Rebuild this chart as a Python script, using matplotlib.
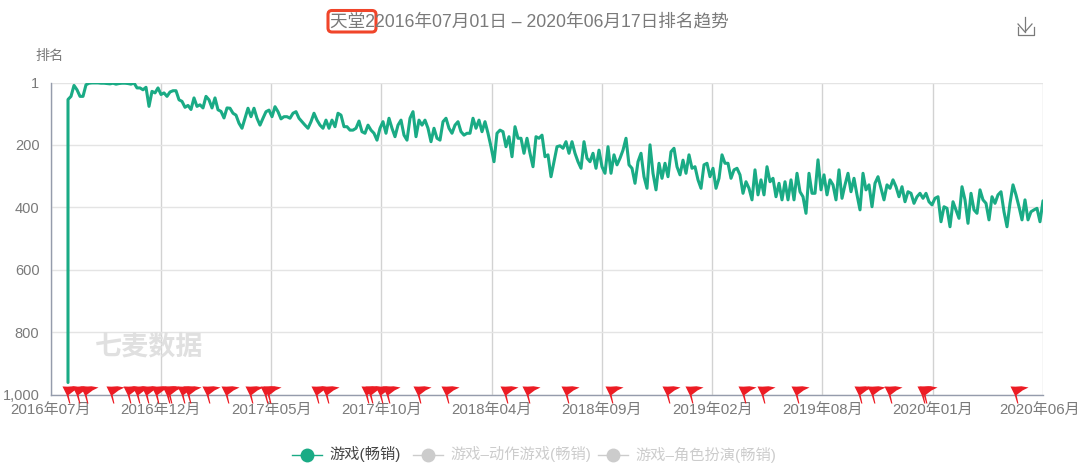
import numpy as np
import matplotlib
matplotlib.use("Agg")
import matplotlib.pyplot as plt
from matplotlib.path import Path
from matplotlib.patches import FancyBboxPatch
from matplotlib.transforms import ScaledTranslation

plt.rcParams['font.family'] = ['Liberation Sans', 'Noto Sans CJK SC', 'DejaVu Sans']

title_text = "天堂22016年07月01日 – 2020年06月17日排名趋势"
y_label = "排名"
watermark = "七麦数据"
month_labels = ["2016年07月", "2016年12月", "2017年05月", "2017年10月", "2018年04月",
                "2018年09月", "2019年02月", "2019年08月", "2020年01月", "2020年06月"]
rank_ticks = [1, 200, 400, 600, 800, 1000]
rank_tick_labels = ["1", "200", "400", "600", "800", "1,000"]
legend_names = ["游戏(畅销)", "游戏–动作游戏(畅销)", "游戏–角色扮演(畅销)"]

entry_rank = 960
rank_2016 = [55, 45, 10, 24, 45, 45, 8, 3, 2, 2, 2, 3, 3, 4, 5, 3, 6, 4, 3, 3, 4, 6, 2,
             18, 18, 24, 16, 77, 29, 34, 18, 39, 34, 45, 31, 27, 27, 56, 61, 80, 74, 87,
             50, 77, 72, 82, 45, 56, 82, 50, 88, 93, 114, 82]
rank_2017a = [83, 99, 105, 131, 147, 115, 83, 110, 83, 115, 137, 115, 94, 89, 110, 78, 94,
              117, 110, 110, 115, 99, 94, 115, 126, 137, 147, 126, 99, 121, 137, 147, 121,
              147, 121, 142, 99, 105, 142, 142, 153, 153, 147, 124, 158, 163, 137, 153,
              163, 185, 147, 126, 163, 115, 147]
rank_2017b = [174, 137, 121, 169, 185, 115, 94, 174, 121, 137, 121, 147, 190, 147, 179, 185,
              126, 115, 147, 163, 137, 126, 158, 169, 163, 163, 115, 147, 121, 158, 126,
              163, 206, 254, 163, 153, 158, 206, 174, 238, 142, 179, 179, 227, 179, 227,
              270, 174, 179, 169, 238, 232, 302, 254, 206]
rank_2018 = [203, 211, 190, 227, 190, 227, 254, 275, 190, 243, 254, 227, 275, 217, 270, 291,
             206, 291, 232, 264, 243, 217, 179, 264, 275, 323, 254, 227, 302, 339, 200, 291,
             344, 259, 307, 259, 302, 222, 211, 270, 296, 249, 291, 232, 275, 270, 312, 339,
             264, 259, 302, 275, 339, 307, 232]
rank_2019 = [259, 259, 307, 280, 275, 296, 355, 318, 339, 376, 280, 360, 312, 360, 270, 318,
             307, 366, 323, 376, 318, 376, 312, 376, 291, 350, 366, 419, 291, 355, 355, 248,
             344, 296, 360, 312, 328, 376, 280, 371, 328, 291, 350, 307, 360, 408, 291, 344,
             328, 398, 323, 302, 339, 376, 328]
rank_2020 = [339, 312, 334, 366, 334, 382, 350, 355, 387, 366, 355, 371, 355, 382, 392, 371,
             366, 446, 398, 403, 462, 382, 408, 435, 334, 376, 451, 355, 408, 419, 344, 376,
             387, 440, 366, 387, 360, 350, 414, 462, 387, 328, 360, 398, 440, 376, 440, 414,
             408, 403, 446, 379]

flag_positions_px = [69, 79, 87, 113, 130, 139, 148, 158, 169, 171, 184, 190, 209, 228, 252,
                     267, 270, 318, 328, 368, 372, 382, 389, 420, 448, 507, 529, 568, 612,
                     669, 692, 745, 764, 798, 861, 874, 891, 924, 926, 1017]

ranks = np.array(rank_2016 + rank_2017a + rank_2017b + rank_2018 + rank_2019 + rank_2020, float)

W, H = 1080, 466
L, R, T, B = 50.5, 1043.0, 82.6, 395.0
GREEN = "#1aab85"
TXT = "#7a7a7a"

fig = plt.figure(figsize=(W / 100, H / 100), dpi=100, facecolor="white")
ax = fig.add_axes([L / W, 1 - B / H, (R - L) / W, (B - T) / H])
ax.set_xlim(L, R)
ax.set_ylim(1000, 1)

tick_x = np.linspace(L, R, len(month_labels))
ax.set_xticks(tick_x)
ax.set_xticklabels(month_labels, fontsize=10.8, color=TXT)
ax.set_yticks(rank_ticks)
ax.set_yticklabels(rank_tick_labels, fontsize=10.5, color=TXT)
ax.tick_params(length=0)
ax.tick_params(axis='y', pad=8)
ax.tick_params(axis='x', pad=6)
last_label = ax.get_xticklabels()[-1]
last_label.set_transform(last_label.get_transform() + ScaledTranslation(-3.5 / 100, 0, fig.dpi_scale_trans))
ax.set_axisbelow(True)
ax.grid(axis='y', color="#e4e4e4", lw=1.0)
ax.grid(axis='x', color="#d2d2d2", lw=1.0)
for s in ("top", "right"):
    ax.spines[s].set_visible(False)
for s in ("left", "bottom"):
    ax.spines[s].set_color("#959cac")
    ax.spines[s].set_linewidth(1.0)

ax.plot(np.r_[68.0, np.linspace(68.0, R, len(ranks))], np.r_[entry_rank, ranks], color=GREEN,
        lw=2.2, solid_joinstyle="round", solid_capstyle="round", zorder=3)

flag_verts = [(-0.9, 0.5), (0.9, -8), (-0.2, -8), (-2.8, 0.5), (-7, 9), (-2, 8.8), (4, 9.2),
              (11, 8), (5, 5), (-0.9, 0.5)]
flag_path = Path(flag_verts, closed=True)
ax.scatter(flag_positions_px, [1000] * len(flag_positions_px), marker=flag_path, s=15.9 ** 2,
           color="#ec1c24", linewidths=0, clip_on=False, zorder=5)

ov = fig.add_axes([0, 0, 1, 1], facecolor="none")
ov.set_xlim(0, W)
ov.set_ylim(H, 0)
ov.axis("off")

ov.text(529.5, 22, title_text, ha="center", va="center", fontsize=12.7, color=TXT)
ov.add_patch(FancyBboxPatch((328, 10.5), 48, 21.5, boxstyle="round,pad=0,rounding_size=4",
                            fc="none", ec="#f0452a", lw=2.2, mutation_aspect=1))
ov.text(50, 56, y_label, ha="center", va="center", fontsize=10.2, color=TXT)
ov.text(149, 347, watermark, ha="center", va="center", fontsize=19.5, fontweight="bold",
        color="#e0e0e0", zorder=1)

ov.plot([1025, 1025], [17, 32], color=TXT, lw=0.9)
ov.plot([1018, 1025, 1032], [24, 32, 24], color=TXT, lw=0.9)
ov.plot([1017.5, 1017.5, 1033.5, 1033.5], [27, 34.5, 34.5, 27], color=TXT, lw=0.9)

leg_y = 454.5
for cx, tx, name, col, tcol in zip([307, 428, 613], [329, 450, 635], legend_names,
                                   [GREEN, "#cccccc", "#cccccc"], ["#444444", "#cccccc", "#cccccc"]):
    ov.plot([cx - 15, cx + 15], [leg_y, leg_y], color=col, lw=1.0)
    ov.plot([cx], [leg_y], marker="o", ms=10, color=col, mew=0)
    ov.text(tx, leg_y, name, ha="left", va="center", fontsize=11.0, color=tcol)

fig.savefig("out.png", dpi=100)
